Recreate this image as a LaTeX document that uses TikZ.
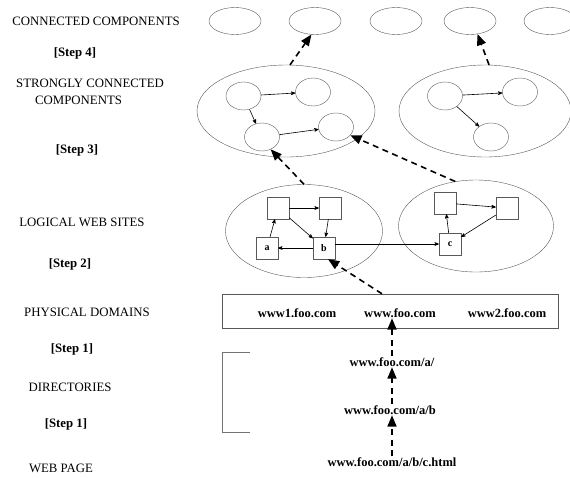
\documentclass[tikz,border=0pt]{standalone}
\usepackage{fontspec}
\setmainfont{Liberation Serif}
\usepackage{tikz}
\usetikzlibrary{arrows,positioning,calc,shapes.geometric}
\tikzset{
    %Define standard arrow tip
    >=stealth',
    %Define style for the level names on the left
    tier/.style={
           anchor=base, inner sep=0pt,
           font=\fontsize{12.8}{17}\selectfont},
    stepname/.style={
           tier, font=\fontsize{12.8}{17}\selectfont\bfseries},
    % Define style for the url texts
    url/.style={
           anchor=base, inner sep=1pt,
           font=\fontsize{12.5}{15}\selectfont\bfseries},
    % Define shapes
    comp/.style={
           ellipse, draw=black!65, inner sep=0pt},
    vert/.style={
           ellipse, draw=black!65, minimum width=35pt, minimum height=28pt, inner sep=0pt},
    site/.style={
           rectangle, draw=black!65, minimum size=22pt, inner sep=0pt,
           font=\fontsize{10}{12}\selectfont\bfseries},
    % Define arrow styles
    link/.style={
           ->, semithick},
    lift/.style={
           ->, >=triangle 45, line width=1.6pt,
           dash pattern=on 6pt off 4.5pt}
}
\begin{document}
\begin{tikzpicture}[x=1pt,y=-1pt]
	\clip (0,0) rectangle (570,477);

	% level names
	\node[tier] (cc-name) at (96,25.5) {CONNECTED COMPONENTS};
	\node[stepname] (step4) at (75,56.5) {[Step 4]};
	\node[tier, anchor=base west, align=left] (scc-name) at (16,104.5) {STRONGLY CONNECTED\\\hspace*{19pt}COMPONENTS};
	\node[stepname] (step3) at (77,153.5) {[Step 3]};
	\node[tier] (lws-name) at (82,226.5) {LOGICAL WEB SITES};
	\node[stepname] (step2) at (70,267.5) {[Step 2]};
	\node[tier] (dom-name) at (87,316.5) {PHYSICAL DOMAINS};
	\node[stepname] (step1a) at (72,352.5) {[Step 1]};
	\node[tier] (dir-name) at (70,391.5) {DIRECTORIES};
	\node[stepname] (step1b) at (66,427.5) {[Step 1]};
	\node[tier] (page-name) at (61,472.5) {WEB PAGE};

	% connected components
	\foreach \x/\n in {235/1,315/2,396/3,470/4,550/5}
		\node[comp, minimum width=52pt, minimum height=27pt] (cc\n) at (\x,21) {};

	% strongly connected components
	\node[comp, minimum width=178pt, minimum height=92pt] (scc-left) at (286,111) {};
	\node[comp, minimum width=172pt, minimum height=92pt] (scc-right) at (485,111) {};

	\node[vert] (v1) at (243.5,96) {};
	\node[vert] (v2) at (313,92) {};
	\node[vert] (v3) at (262,137) {};
	\node[vert] (v4) at (336,127) {};
	\node[vert] (w1) at (445,96) {};
	\node[vert] (w2) at (520,92) {};
	\node[vert] (w3) at (491,137) {};

	\path[link] (v1) edge (v2)
	            (v1) edge (v3)
	            (v3) edge (v4)
	            (w1) edge (w2)
	            (w1) edge (w3);

	% logical web sites
	\node[comp, minimum width=157pt, minimum height=93pt] (lws-left) at (304,231) {};
	\node[comp, minimum width=155pt, minimum height=92pt] (lws-right) at (476,226) {};

	\node[site] (s1) at (278,208) {};
	\node[site] (s2) at (330,208) {};
	\node[site] (sa) at (267,248) {a};
	\node[site] (sb) at (324,248) {b};
	\node[site] (t1) at (445,203) {};
	\node[site] (t2) at (507,208) {};
	\node[site] (sc) at (450,244) {c};

	\path[link] (sa) edge (s1)
	            (s1) edge (s2)
	            (s1) edge (sb)
	            (s2) edge (sb)
	            (sb) edge (sa)
	            (t1) edge (t2)
	            (t2) edge (sc)
	            (sc) edge (t1);
	\draw[link] (sb.east |- sc) -- (sc.west);

	% physical domains
	\node[rectangle, draw=black!65, minimum width=336pt, minimum height=34pt] (dom) at (390,311) {};
	\node[url] (www1) at (297,317) {www1.foo.com};
	\node[url] (www) at (400,317) {www.foo.com};
	\node[url] (www2) at (507,317) {www2.foo.com};

	% directories
	\draw[black!55] (250,352) -- (222,352) -- (222,432) -- (250,432);
	\node[url] (dir-a) at (392,366) {www.foo.com/a/};
	\node[url] (dir-b) at (390,414) {www.foo.com/a/b};
	\node[url] (page) at (392,466) {www.foo.com/a/b/c.html};

	% steps
	\draw[lift] (page.north) -- (page.north |- dir-b.south);
	\draw[lift] (page.north |- dir-b.north) -- (page.north |- dir-a.south);
	\draw[lift] (page.north |- dir-a.north) -- (page.north |- www.south);
	\draw[lift] ([xshift=-8pt]dom.north) -- (sb.-70);
	\draw[lift] (lws-left.north) -- (v3.-55);
	\draw[lift] (lws-right.115) -- (v4.-30);
	\draw[lift] (scc-left.85) -- (cc2.-105);
	\draw[lift] (scc-right.85) -- (cc4.-60);

\end{tikzpicture}
\end{document}
